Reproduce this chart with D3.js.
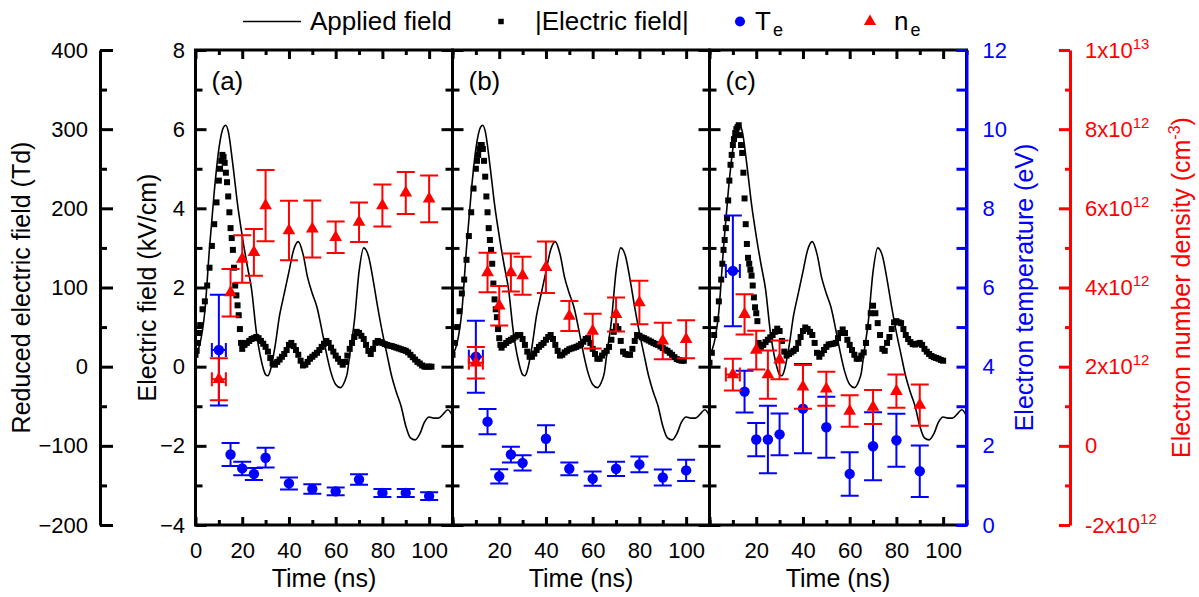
<!DOCTYPE html>
<html>
<head>
<meta charset="utf-8">
<script src="https://cdn.jsdelivr.net/npm/d3@7"></script>
<style>
  body { margin: 0; background: #fff; }
  svg { display: block; font-family: Arial, "Liberation Sans", sans-serif; }
</style>
</head>
<body>
<div id="chart"></div>
<script>
// applied field (kV/cm), same trace in every panel
var appliedT = [0,2,4,6,8,10,12,13,14,16,18,20,22,24,26,28,30,31,32,34,36,38,40,42,44,46,48,50,52,54,56,58,60,62,64,65,66,68,70,72,73,74,76,78,80,82,84,86,88,90,92,94,96,98,100,102,104,106,108,110];
var appliedE = [0.3,0.6,1.4,3.0,4.4,5.5,6.05,6.1,5.95,5.1,4.1,3.3,2.6,1.95,0.9,0.2,-0.2,-0.23,-0.1,0.5,1.3,1.85,2.4,2.95,3.16,2.85,2.25,1.85,1.5,0.95,0.35,-0.15,-0.45,-0.53,-0.35,-0.15,0.3,1.15,2.4,3.0,2.95,2.8,2.2,1.5,0.86,0.3,-0.25,-0.65,-1.0,-1.5,-1.8,-1.85,-1.7,-1.4,-1.27,-1.3,-1.3,-1.2,-1.09,-1.25];

// |electric field| measurements [time ns, kV/cm]
var fieldA = [[0,0.3],[0.5,0.4],[1,0.6],[1.5,0.85],[2,1.05],[3,1.45],[4,1.65],[5,2.05],[6,2.5],[7,3.05],[8,3.6],[9,4.15],[10,4.7],[10.5,5.0],[11,5.2],[11.5,5.35],[12,5.3],[12.5,5.15],[13,4.9],[13.5,4.66],[14,4.3],[14.5,3.9],[15,3.5],[15.5,3.25],[16,2.95],[16.5,2.5],[17,2.05],[17.5,1.8],[18,1.55],[18.5,1.3],[19,0.95],[19.5,0.6],[20,0.45],
  [21,0.55],[22,0.6],[23,0.65],[24,0.7],[25,0.72],[26,0.75],[27,0.72],[28,0.65],[29,0.58],[30,0.5],[31,0.38],[32,0.22],[33,0.08],[34,0.05],[35,0.12],[36,0.18],[37,0.25],[38,0.32],[39,0.42],[40,0.55],
  [41,0.6],[42,0.52],[43,0.42],[44,0.3],[45,0.15],[46,0.03],[47,0.05],[48,0.12],[49,0.2],[50,0.25],[51,0.3],[52,0.35],[53,0.42],[54,0.5],[55,0.58],[56,0.65],[57,0.6],[58,0.48],[59,0.38],[60,0.28],
  [61,0.2],[62,0.12],[63,0.05],[64,0.12],[65,0.28],[66,0.45],[67,0.6],[68,0.75],[69,0.88],[70,0.85],[71,0.78],[72,0.7],[73,0.55],[74,0.4],[75,0.32],[76,0.45],[77,0.6],[78,0.65],[79,0.62],[80,0.6],
  [81,0.57],[82,0.55],[83,0.53],[84,0.52],[85,0.5],[86,0.48],[87,0.46],[88,0.44],[89,0.42],[90,0.4],[91,0.36],[92,0.3],[93,0.24],[94,0.18],[95,0.12],[96,0.08],[97,0.03],[98,0.0],[99,0.0],[100,0.0],[101,0.0]];

var fieldB = [[0,0.3],[1,0.6],[2,1.0],[3,1.4],[4,1.85],[5,2.2],[6,2.7],[7,3.3],[8,3.9],[9,4.5],[10,5.0],[10.5,5.2],[11,5.35],[11.5,5.5],[12,5.6],[12.5,5.6],[13,5.5],[13.5,5.2],[14,4.8],[14.5,4.3],[15,3.9],[15.5,3.5],[16,3.2],[16.5,2.95],[17,2.6],[17.5,2.1],[18,1.7],[18.5,1.45],[19,1.25],[19.5,0.95],[20,0.72],[20.5,0.55],
  [21,0.48],[22,0.55],[23,0.6],[24,0.65],[25,0.68],[26,0.72],[27,0.76],[28,0.8],[29,0.8],[30,0.7],[31,0.55],[32,0.38],[33,0.25],[34,0.25],[35,0.33],[36,0.42],[37,0.5],[38,0.55],[39,0.6],[40,0.68],
  [41,0.75],[42,0.8],[43,0.7],[44,0.55],[45,0.4],[46,0.28],[47,0.3],[48,0.36],[49,0.4],[50,0.44],[51,0.46],[52,0.48],[53,0.5],[54,0.53],[55,0.57],[56,0.63],[57,0.7],[58,0.72],[59,0.6],[60,0.45],
  [61,0.32],[62,0.2],[63,0.2],[64,0.28],[65,0.35],[66,0.4],[67,0.5],[68,0.68],[69,0.88],[70,1.02],[71,0.95],[72,0.65],[73,0.38],[74,0.32],[75,0.3],[76,0.3],[77,0.45],[78,0.65],[79,0.8],[80,0.78],
  [81,0.74],[82,0.72],[83,0.69],[84,0.66],[85,0.63],[86,0.6],[87,0.57],[88,0.55],[89,0.51],[90,0.47],[91,0.43],[92,0.4],[93,0.35],[94,0.3],[95,0.24],[96,0.19],[97,0.17],[98,0.15],[99,0.15]];

var fieldC = [[0,0.1],[1,0.35],[2,0.8],[3,1.2],[4,1.65],[5,2.2],[5.5,2.6],[6,2.95],[6.5,3.2],[7,3.5],[7.5,3.75],[8,4.2],[8.5,4.7],[9,5.1],[9.5,5.35],[10,5.6],[10.5,5.75],[11,5.9],[11.5,6.0],[12,6.05],[12.5,6.1],[13,5.85],[13.5,5.6],[14,5.4],[14.5,4.9],[15,4.25],[15.5,3.6],[16,3.1],[16.5,2.75],[17,2.6],[17.5,2.45],[18,2.3],[18.5,2.05],[19,1.75],[19.5,1.5],[20,1.35],[20.5,1.15],[21,0.6],
  [22,0.5],[23,0.55],[24,0.62],[25,0.68],[26,0.74],[27,0.8],[28,0.88],[29,0.96],[30,0.9],[31,0.65],[32,0.38],[33,0.28],[34,0.32],[35,0.36],[36,0.4],[37,0.45],[38,0.6],[39,0.75],[40,0.9],
  [41,0.99],[42,0.95],[43,0.88],[44,0.8],[45,0.6],[46,0.35],[47,0.25],[48,0.33],[49,0.42],[50,0.5],[51,0.56],[52,0.57],[53,0.58],[54,0.6],[55,0.72],[56,0.85],[57,0.94],[58,0.85],[59,0.68],[60,0.55],
  [61,0.42],[62,0.3],[63,0.2],[64,0.2],[65,0.28],[66,0.36],[67,0.6],[68,1.0],[69,1.35],[70,1.54],[71,1.35],[72,1.1],[73,0.8],[74,0.45],[75,0.4],[76,0.6],[77,0.75],[78,0.95],[79,1.12],[80,1.15],
  [81,1.12],[82,1.1],[83,0.95],[84,0.8],[85,0.7],[86,0.62],[87,0.57],[88,0.56],[89,0.58],[90,0.6],[91,0.55],[92,0.45],[93,0.38],[94,0.32],[95,0.27],[96,0.24],[97,0.22],[98,0.2],[99,0.17],[100,0.15]];

// electron temperature (eV) and density (1e12 cm^-3) with error bars
var probeT = [10,15,20,25,30,40,50,60,70,80,90,100];
var timeErr = 3; // ns, first point only

var teA = [4.42,1.78,1.43,1.29,1.70,1.05,0.91,0.85,1.15,0.81,0.81,0.73];
var teErrA = [1.4,0.29,0.17,0.15,0.25,0.15,0.12,0.1,0.13,0.1,0.1,0.1];
var neA = [1.68,3.87,4.72,4.89,6.07,5.44,5.48,5.27,5.65,6.07,6.39,6.24];
var neErrA = [0.53,0.6,0.6,0.59,0.9,0.75,0.72,0.4,0.5,0.53,0.53,0.59];

var teB = [4.25,2.61,1.23,1.78,1.57,2.18,1.42,1.17,1.42,1.53,1.2,1.38];
var teErrB = [0.91,0.32,0.18,0.2,0.19,0.34,0.16,0.18,0.18,0.2,0.2,0.27];
var neB = [2.1,4.38,3.54,4.38,4.3,4.51,3.28,2.9,3.32,3.62,2.65,2.69];
var neErrB = [0.4,0.5,0.5,0.48,0.48,0.65,0.38,0.44,0.43,0.55,0.46,0.48];

var teC = [6.42,3.37,2.16,2.16,2.29,2.94,2.47,1.29,1.99,2.14,1.36];
var teErrC = [1.4,0.53,0.42,0.85,0.53,1.13,0.77,0.55,0.86,0.67,0.65];
var neC = [1.8,3.32,2.42,1.8,2.17,1.49,1.44,0.88,0.98,1.38,1.03];
var neErrC = [0.4,0.51,0.49,0.61,0.49,0.55,0.43,0.4,0.43,0.42,0.52];

// tick values
var panelNames = ["(a)", "(b)", "(c)"];
var timeTicks = [0, 20, 40, 60, 80, 100];
var timeMinor = [10, 30, 50, 70, 90, 110];
var fieldTicks = [-4, -2, 0, 2, 4, 6, 8];
var fieldMinor = [-3, -1, 1, 3, 5, 7];
var tdTicks = [-200, -100, 0, 100, 200, 300, 400];
var tdMinor = [-150, -50, 50, 150, 250, 350];
var teTicks = [0, 2, 4, 6, 8, 10, 12];
var teMinor = [1, 3, 5, 7, 9, 11];
var neTicks = [-2e12, 0, 2e12, 4e12, 6e12, 8e12, 1e13];
var neMinor = [-1e12, 1e12, 3e12, 5e12, 7e12, 9e12];

var panels = [
  {field: fieldA, te: teA, teErr: teErrA, ne: neA, neErr: neErrA},
  {field: fieldB, te: teB, teErr: teErrB, ne: neB, neErr: neErrB},
  {field: fieldC, te: teC, teErr: teErrC, ne: neC, neErr: neErrC}
];

var width = 1199, height = 597;
var plotTop = 50, plotBottom = 525;
var panelLeft = [195.5, 452.5, 709.5], panelWidth = 257;
var RED = "#ff0000", BLUE = "#0000ff";
var tickFont = 22, titleFont = 25;
var sq = 6;

var svg = d3.select("#chart").append("svg")
    .attr("width", width)
    .attr("height", height);

var yE = d3.scaleLinear().domain([-4, 8]).range([plotBottom, plotTop]);
var yTd = d3.scaleLinear().domain([-200, 400]).range([plotBottom, plotTop]);
var yTe = d3.scaleLinear().domain([0, 12]).range([plotBottom, plotTop]);
var yNe = d3.scaleLinear().domain([-2e12, 1e13]).range([plotBottom, plotTop]);

function styleAxis(g, color, keepDomain) {
    g.attr("font-family", null).attr("font-size", null);
    g.selectAll(".tick line").attr("stroke", color).attr("stroke-width", 3);
    g.selectAll(".tick text").attr("fill", color).style("font-size", tickFont + "px");
    if (keepDomain) g.select(".domain").attr("stroke", color).attr("stroke-width", 3);
    else g.select(".domain").remove();
}

panels.forEach(function(p, i) {
    var L = panelLeft[i];
    var x = d3.scaleLinear().domain([0, 110]).range([L, L + panelWidth]);
    var g = svg.append("g");

    g.append("clipPath").attr("id", "clip" + i)
      .append("rect").attr("x", L).attr("y", plotTop)
      .attr("width", panelWidth).attr("height", plotBottom - plotTop);

    var data = g.append("g").attr("clip-path", "url(#clip" + i + ")");

    // applied field
    var line = d3.line()
        .x(function(d) { return x(d[0]); })
        .y(function(d) { return yE(d[1]); })
        .curve(d3.curveMonotoneX);
    data.append("path")
        .datum(appliedT.map(function(t, k) { return [t, appliedE[k]]; }))
        .attr("d", line)
        .attr("fill", "none").attr("stroke", "#000").attr("stroke-width", 1.6);

    // measured field
    data.selectAll("rect.ef").data(p.field).join("rect")
        .attr("class", "ef")
        .attr("x", function(d) { return x(d[0]) - sq / 2; })
        .attr("y", function(d) { return yE(d[1]) - sq / 2; })
        .attr("width", sq).attr("height", sq)
        .attr("fill", "#000");

    // error bar series
    function series(vals, errs, yScale, mult, color, shape) {
        var pts = vals.map(function(v, k) {
            return {t: probeT[k], v: v * mult, e: errs[k] * mult, k: k};
        });
        var eg = data.append("g").attr("stroke", color).attr("stroke-width", 2);
        pts.forEach(function(d) {
            var cx = x(d.t), y1 = yScale(d.v - d.e), y2 = yScale(d.v + d.e), cy = yScale(d.v);
            eg.append("line").attr("x1", cx).attr("x2", cx).attr("y1", y1).attr("y2", y2);
            eg.append("line").attr("x1", cx - 9).attr("x2", cx + 9).attr("y1", y1).attr("y2", y1);
            eg.append("line").attr("x1", cx - 9).attr("x2", cx + 9).attr("y1", y2).attr("y2", y2);
            if (d.k === 0) {
                var xa = x(d.t - timeErr), xb = x(d.t + timeErr);
                eg.append("line").attr("x1", xa).attr("x2", xb).attr("y1", cy).attr("y2", cy);
                eg.append("line").attr("x1", xa).attr("x2", xa).attr("y1", cy - 7).attr("y2", cy + 7);
                eg.append("line").attr("x1", xb).attr("x2", xb).attr("y1", cy - 7).attr("y2", cy + 7);
            }
        });
        data.append("g").selectAll("path").data(pts).join("path")
            .attr("transform", function(d) { return "translate(" + x(d.t) + "," + yScale(d.v) + ")"; })
            .attr("d", d3.symbol().type(shape).size(shape === d3.symbolCircle ? 85 : 70))
            .attr("fill", color);
    }
    series(p.te, p.teErr, yTe, 1, BLUE, d3.symbolCircle);
    series(p.ne, p.neErr, yNe, 1e12, RED, d3.symbolTriangle);

    // frame
    g.append("rect").attr("x", L).attr("y", plotTop)
        .attr("width", panelWidth).attr("height", plotBottom - plotTop)
        .attr("fill", "none").attr("stroke", "#000").attr("stroke-width", 3);

    // bottom axis with labels
    var labelTicks = i === 0 ? timeTicks : timeTicks.slice(1);
    var gx = g.append("g").attr("transform", "translate(0," + plotBottom + ")")
        .call(d3.axisBottom(x).tickValues(timeTicks).tickSizeInner(-8).tickSizeOuter(0).tickPadding(17)
            .tickFormat(function(d) { return labelTicks.indexOf(d) >= 0 ? d : ""; }));
    styleAxis(gx, "#000");
    var gxm = g.append("g").attr("transform", "translate(0," + plotBottom + ")")
        .call(d3.axisBottom(x).tickValues(timeMinor).tickSize(-5).tickFormat(""));
    styleAxis(gxm, "#000");
    // top mirror
    var gt = g.append("g").attr("transform", "translate(0," + plotTop + ")")
        .call(d3.axisTop(x).tickValues(timeTicks).tickSize(-9).tickFormat(""));
    styleAxis(gt, "#000");
    var gtm = g.append("g").attr("transform", "translate(0," + plotTop + ")")
        .call(d3.axisTop(x).tickValues(timeMinor).tickSize(-5).tickFormat(""));
    styleAxis(gtm, "#000");

    // left side ticks (labels only on panel a)
    var gl = g.append("g").attr("transform", "translate(" + L + ",0)")
        .call(d3.axisLeft(yE).tickValues(fieldTicks).tickSizeInner(-11).tickSizeOuter(0).tickPadding(10.5)
            .tickFormat(i === 0 ? d3.format("d") : function() { return ""; }));
    styleAxis(gl, "#000");
    var glm = g.append("g").attr("transform", "translate(" + L + ",0)")
        .call(d3.axisLeft(yE).tickValues(fieldMinor).tickSize(-7).tickFormat(""));
    styleAxis(glm, "#000");

    // right side ticks (panel c carries the temperature axis instead)
    if (i < 2) {
        var gr = g.append("g").attr("transform", "translate(" + (L + panelWidth) + ",0)")
            .call(d3.axisRight(yE).tickValues(fieldTicks).tickSize(-11).tickFormat(""));
        styleAxis(gr, "#000");
        var grm = g.append("g").attr("transform", "translate(" + (L + panelWidth) + ",0)")
            .call(d3.axisRight(yE).tickValues(fieldMinor).tickSize(-7).tickFormat(""));
        styleAxis(grm, "#000");
    }

    g.append("text").attr("x", L + 16).attr("y", 90)
        .style("font-size", "26px").text(panelNames[i]);

    g.append("text").attr("x", L + panelWidth / 2).attr("y", 587)
        .attr("text-anchor", "middle").style("font-size", titleFont + "px").text("Time (ns)");
});

// reduced electric field axis
var gTd = svg.append("g").attr("transform", "translate(100,0)")
    .call(d3.axisLeft(yTd).tickValues(tdTicks).tickSizeInner(-13).tickSizeOuter(0).tickPadding(12));
styleAxis(gTd, "#000", true);
var gTdm = svg.append("g").attr("transform", "translate(100,0)")
    .call(d3.axisLeft(yTd).tickValues(tdMinor).tickSize(-7).tickFormat(""));
styleAxis(gTdm, "#000");

// electron temperature axis
var rightX = panelLeft[2] + panelWidth;
var gTe = svg.append("g").attr("transform", "translate(" + rightX + ",0)")
    .call(d3.axisRight(yTe).tickValues(teTicks).tickSizeInner(-10).tickSizeOuter(0).tickPadding(16));
styleAxis(gTe, BLUE, true);
var gTem = svg.append("g").attr("transform", "translate(" + rightX + ",0)")
    .call(d3.axisRight(yTe).tickValues(teMinor).tickSize(-10).tickFormat(""));
styleAxis(gTem, BLUE);

// electron density axis
var gNe = svg.append("g").attr("transform", "translate(1070,0)")
    .call(d3.axisRight(yNe).tickValues(neTicks).tickSizeInner(-11).tickSizeOuter(0).tickPadding(15));
styleAxis(gNe, RED, true);
gNe.selectAll(".tick text").each(function(v) {
    var t = d3.select(this).text("");
    if (Math.abs(v) < 1) { t.text("0"); return; }
    var e = Math.floor(Math.log10(Math.abs(v)) + 1e-9);
    var m = Math.round(v / Math.pow(10, e));
    t.append("tspan").text(m + "x10");
    t.append("tspan").attr("dy", -9).style("font-size", "15px").text(e);
});
var gNem = svg.append("g").attr("transform", "translate(1070,0)")
    .call(d3.axisRight(yNe).tickValues(neMinor).tickSize(-5).tickFormat(""));
styleAxis(gNem, RED);

// axis titles
var midY = (plotTop + plotBottom) / 2;
function vTitle(xPos, color) {
    return svg.append("text")
        .attr("transform", "translate(" + xPos + "," + midY + ") rotate(-90)")
        .attr("text-anchor", "middle")
        .attr("fill", color)
        .style("font-size", titleFont + "px");
}
vTitle(30, "#000").text("Reduced electric field (Td)");
vTitle(156, "#000").text("Electric field (kV/cm)");
vTitle(1033, BLUE).text("Electron temperature (eV)");
var neTitle = vTitle(1190, RED);
neTitle.append("tspan").text("Electron number density (cm");
neTitle.append("tspan").attr("dy", -10).style("font-size", "16px").text("-3");
neTitle.append("tspan").attr("dy", 10).text(")");

// legend
var lg = svg.append("g").style("font-size", "26px");
var legY = 21.5, legBase = 30;
lg.append("line").attr("x1", 243).attr("x2", 301).attr("y1", legY).attr("y2", legY)
    .attr("stroke", "#000").attr("stroke-width", 1.6);
lg.append("text").attr("x", 310).attr("y", legBase).text("Applied field");
lg.append("rect").attr("x", 501 - 2.75).attr("y", legY - 2.75).attr("width", 5.5).attr("height", 5.5);
lg.append("text").attr("x", 535).attr("y", legBase).text("|Electric field|");
lg.append("path").attr("transform", "translate(740," + legY + ")")
    .attr("d", d3.symbol().type(d3.symbolCircle).size(80)).attr("fill", BLUE);
var te = lg.append("text").attr("x", 755).attr("y", legBase);
te.append("tspan").text("T");
te.append("tspan").attr("dx", 2).attr("dy", 6).style("font-size", "18px").text("e");
lg.append("path").attr("transform", "translate(870," + legY + ")")
    .attr("d", d3.symbol().type(d3.symbolTriangle).size(64)).attr("fill", RED);
var ne = lg.append("text").attr("x", 894).attr("y", legBase);
ne.append("tspan").text("n");
ne.append("tspan").attr("dx", 2).attr("dy", 6).style("font-size", "18px").text("e");
</script>
</body>
</html>
